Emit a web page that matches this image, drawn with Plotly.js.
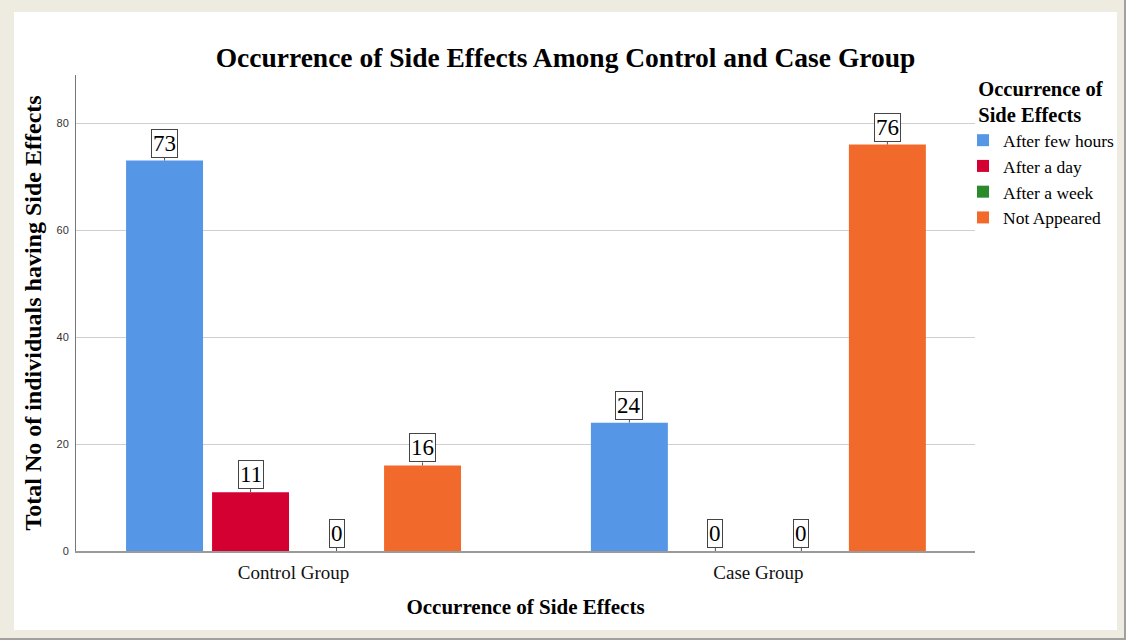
<!DOCTYPE html>
<html>
<head>
<meta charset="utf-8">
<script src="https://cdn.plot.ly/plotly-3.0.1.min.js"></script>
<style>
  html, body { margin: 0; padding: 0; }
  body { width: 1126px; height: 640px; background: #EEEBE1; position: relative; overflow: hidden; }
  #frame { position: absolute; left: 0; top: 0; width: 1126px; height: 640px; box-sizing: border-box;
           border-right: 2px solid #a0a0a0; border-bottom: 2px solid #a0a0a0; }
  #chart { position: absolute; left: 14px; top: 12px; width: 1103px; height: 618px; background: #fff; }
</style>
</head>
<body>
<div id="frame"></div>
<div id="chart"></div>
<script>
// Groups on the x axis
const groups = ['Control Group', 'Case Group'];

// Side-effect timing categories (one bar series each)
const seriesNames = ['After few hours', 'After a day', 'After a week', 'Not Appeared'];
const seriesColors = ['#5596E6', '#D50032', '#2C8A2C', '#F26A2B'];

// Counts per series: [Control Group, Case Group]
const afterFewHours = [73, 24];
const afterADay = [11, 0];
const afterAWeek = [0, 0];
const notAppeared = [16, 76];

const seriesValues = [afterFewHours, afterADay, afterAWeek, notAppeared];

const serif = 'Liberation Serif, Times New Roman, serif';
const BARGAP = 0.26;
const BARGROUPGAP = 0.105;

const traces = seriesNames.map((name, i) => ({
  type: 'bar',
  name: name,
  x: groups,
  y: seriesValues[i],
  marker: { color: seriesColors[i], line: { width: 0 } },
  hoverinfo: 'none'
}));

// Boxed value labels above each bar, positioned on the category scale
const slot = (1 - BARGAP) / seriesNames.length;
const annotations = [];
seriesValues.forEach((vals, i) => {
  vals.forEach((v, g) => {
    annotations.push({
      x: g + (i - (seriesNames.length - 1) / 2) * slot,
      y: v,
      xref: 'x', yref: 'y',
      text: String(v),
      showarrow: true,
      arrowhead: 0,
      arrowwidth: 1,
      arrowcolor: '#555',
      ax: 0, ay: -3,
      yanchor: 'bottom',
      font: { family: serif, size: 23, color: '#000' },
      bgcolor: '#fff',
      bordercolor: '#444',
      borderwidth: 1,
      borderpad: 1
    });
  });
});

const layout = {
  width: 1103,
  height: 618,
  margin: { l: 62, r: 142, t: 63, b: 79, autoexpand: false },
  paper_bgcolor: '#ffffff',
  plot_bgcolor: '#ffffff',
  barmode: 'group',
  bargap: BARGAP,
  bargroupgap: BARGROUPGAP,
  showlegend: true,
  title: {
    text: '<b>Occurrence of Side Effects Among Control and Case Group</b>',
    font: { family: serif, size: 27.5, color: '#000' },
    x: 0.5, xref: 'container', xanchor: 'center',
    y: 1 - 45 / 618, yref: 'container', yanchor: 'middle'
  },
  xaxis: {
    type: 'category',
    range: [-0.468, 1.466],
    showgrid: false,
    showline: true,
    linecolor: '#9a9a9a',
    linewidth: 2,
    ticks: '',
    tickfont: { family: serif, size: 19, color: '#111' },
    ticklabelstandoff: 3,
    title: {
      text: '<b>Occurrence of Side Effects</b>',
      font: { family: serif, size: 21, color: '#000' },
      standoff: 18
    },
    automargin: false,
    fixedrange: true
  },
  yaxis: {
    range: [0, 89],
    tickvals: [0, 20, 40, 60, 80],
    showgrid: true,
    gridcolor: '#cfcfcf',
    gridwidth: 1,
    zeroline: false,
    showline: true,
    linecolor: '#777',
    linewidth: 1,
    ticks: '',
    tickfont: { family: 'Liberation Sans, Arial, sans-serif', size: 11, color: '#333333' },
    ticklabelstandoff: 4,
    title: {
      text: '<b>Total No of individuals having Side Effects</b>',
      font: { family: serif, size: 24, color: '#000' },
      standoff: 8
    },
    automargin: false,
    fixedrange: true
  },
  legend: {
    xref: 'container', yref: 'container',
    x: 949 / 1103, xanchor: 'left',
    y: 1 - 57 / 618, yanchor: 'top',
    bgcolor: 'rgba(0,0,0,0)',
    font: { family: serif, size: 17.5, color: '#000' },
    title: {
      text: '<b>Occurrence of<br>Side Effects</b>',
      side: 'top center',
      font: { family: serif, size: 20.5, color: '#000' }
    },
    tracegroupgap: 0,
    itemclick: false,
    itemdoubleclick: false
  },
  annotations: annotations
};

Plotly.newPlot('chart', traces, layout, { displayModeBar: false, staticPlot: true });
</script>
</body>
</html>
